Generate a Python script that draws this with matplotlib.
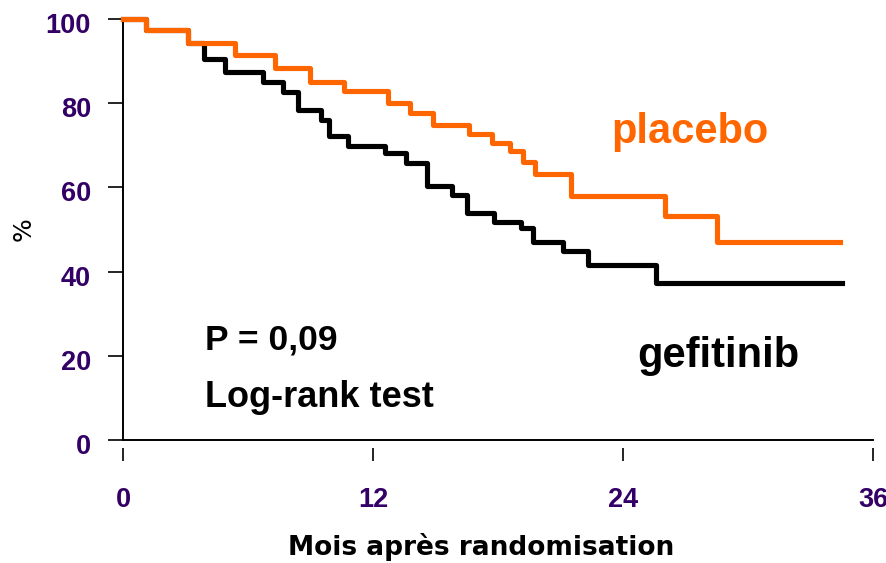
import numpy as np
import matplotlib
matplotlib.use('Agg')
import matplotlib.pyplot as plt
from matplotlib.transforms import ScaledTranslation

# Kaplan-Meier steps (months, % event-free)
placebo_t = [0, 1.1, 3.1, 5.4, 7.3, 9.0, 10.6, 12.7, 13.8, 14.9, 16.6, 17.7,
             18.6, 19.2, 19.8, 21.5, 26.0, 28.5, 34.4]
placebo_s = [100, 97.5, 94.2, 91.4, 88.4, 85.1, 82.9, 80.1, 77.6, 74.8, 72.7, 70.6,
             68.7, 66.1, 63.3, 57.9, 53.3, 47.0, 47.0]

gefit_t = [0, 1.1, 3.1, 3.9, 4.9, 6.7, 7.7, 8.4, 9.5, 9.9, 10.8, 12.6, 13.6,
           14.6, 15.8, 16.5, 17.8, 19.1, 19.7, 21.1, 22.3, 25.6, 34.5]
gefit_s = [100, 97.5, 94.2, 90.6, 87.5, 85.1, 82.7, 78.4, 76.0, 72.2, 69.9, 68.2, 65.7,
           60.3, 58.2, 54.0, 51.9, 50.3, 47.1, 45.0, 41.6, 37.4, 37.4]

xticks = [0, 12, 24, 36]
yticks = [0, 20, 40, 60, 80, 100]

orange = '#FF6600'
purple = '#330066'
arial = 'Liberation Sans'

fig = plt.figure(figsize=(8.87, 5.63), dpi=100)
ax = fig.add_axes([123/887, 123/563, 750/887, 421/563])

ax.step(gefit_t, gefit_s, where='post', color='black', linewidth=3.7, clip_on=False, zorder=3)
ax.step(placebo_t, placebo_s, where='post', color=orange, linewidth=3.7, clip_on=False, zorder=4)

ax.set_xlim(0, 36)
ax.set_ylim(0, 100)

ax.spines['top'].set_visible(False)
ax.spines['right'].set_visible(False)
ax.spines['left'].set_linewidth(1.4)
# x ticks sit detached below the axis line
ax.spines['bottom'].set_position(('outward', 6))
ax.spines['bottom'].set_visible(False)
ax.axhline(0, color='black', linewidth=1.4, clip_on=False, zorder=2)

ax.set_xticks(xticks)
ax.set_yticks(yticks)
ax.tick_params(axis='y', direction='out', length=11, width=1.2, pad=12)
ax.tick_params(axis='x', direction='out', length=9.5, width=1.2, pad=18)
for lbl in ax.get_xticklabels() + ax.get_yticklabels():
    lbl.set_fontfamily(arial)
    lbl.set_fontweight('bold')
    lbl.set_fontsize(19.5)
    lbl.set_color(purple)
off = ScaledTranslation(0, -4/100, fig.dpi_scale_trans)
for lbl in ax.get_yticklabels():
    lbl.set_transform(lbl.get_transform() + off)

ax.set_xlabel('Mois après randomisation', family='DejaVu Sans', fontweight='bold', fontsize=19)
ax.xaxis.set_label_coords(0.478, -0.222)
ax.set_ylabel('%', family='DejaVu Sans', fontsize=18)
ax.yaxis.set_label_coords(-0.117, 0.5)

ax.text(23.45, 70.5, 'placebo', color=orange, family=arial, fontweight='bold', fontsize=30, va='baseline')
ax.text(24.7, 17.4, 'gefitinib', color='black', family=arial, fontweight='bold', fontsize=30, va='baseline')
ax.text(3.94, 21.4, 'P = 0,09', color='black', family=arial, fontweight='bold', fontsize=25.5, va='baseline')
ax.text(3.94, 7.8, 'Log-rank test', color='black', family=arial, fontweight='bold', fontsize=26, va='baseline')

fig.savefig('out.png', dpi=100)
